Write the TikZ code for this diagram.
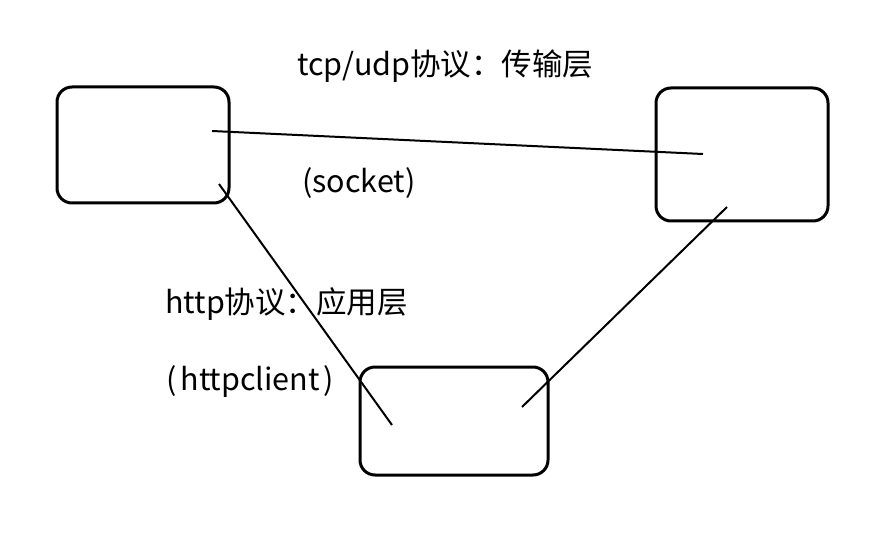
\documentclass[tikz,border=0pt]{standalone}
\usepackage{fontspec}
\setmainfont{Noto Sans CJK SC}
\begin{document}
\begin{tikzpicture}[x=1pt,y=-1pt,
  box/.style={draw,line width=3pt,rounded corners=15pt},
  conn/.style={line width=2pt},
  lbl/.style={anchor=west,inner sep=0pt,font=\fontsize{30.5}{34}\selectfont}]
\useasboundingbox (0,0) rectangle (880,537);
\draw[box] (57,87) rectangle (229,203);
\draw[box] (656,88) rectangle (828,221);
\draw[box] (360,367) rectangle (548,475);
\coordinate (a1) at (212,131);
\coordinate (b1) at (703,154);
\coordinate (a2) at (219,184);
\coordinate (c1) at (392,425);
\coordinate (c2) at (522,407);
\coordinate (b2) at (727,207);
\draw[conn] (a1) -- (b1);
\draw[conn] (a2) -- (c1);
\draw[conn] (c2) -- (b2);
\node[lbl] (t1) at (297,66) {tcp/udp协议：传输层};
\node[lbl] (t2) at (302,183) {(socket)};
\node[lbl] (t3) at (165,304) {http协议：应用层};
\node[lbl] (t4) at (166,382) {(\hspace{4pt}httpclient\hspace{4pt})};
\end{tikzpicture}
\end{document}
